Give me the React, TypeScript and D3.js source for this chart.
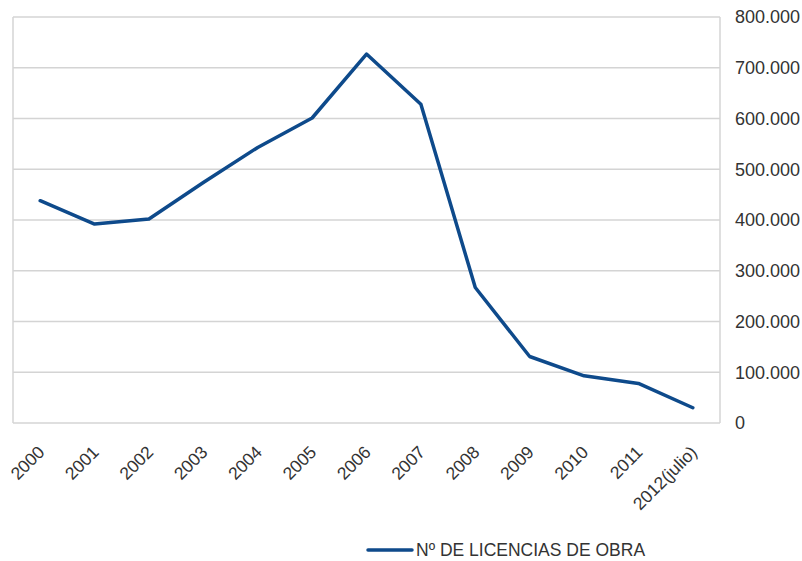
import React from "react";
import * as d3 from "d3";

const categories = ["2000", "2001", "2002", "2003", "2004", "2005", "2006", "2007", "2008", "2009", "2010", "2011", "2012(julio)"];
const licencias = [438000, 392000, 402000, 474000, 543000, 601000, 727000, 628000, 267000, 131000, 93000, 78000, 30000];
const yTicks = [0, 100000, 200000, 300000, 400000, 500000, 600000, 700000, 800000];
const seriesName = "Nº DE LICENCIAS DE OBRA";

const W = 802, H = 561;
const M = { left: 13, right: 720, top: 17, bottom: 423 };
const FONT = "'Liberation Sans', Arial, sans-serif";

export default function App() {
  const x = d3.scaleBand<string>().domain(categories).range([M.left, M.right]);
  const y = d3.scaleLinear().domain([0, 800000]).range([M.bottom, M.top]);
  const fmt = (v: number) => (v === 0 ? "0" : d3.format(",")(v).replace(/,/g, "."));
  const line = d3
    .line<number>()
    .x((_, i) => (x(categories[i]) as number) + x.bandwidth() / 2)
    .y((d) => y(d));

  return (
    <svg width={W} height={H} style={{ position: "absolute", left: 0, top: 0, background: "#fff" }} fontFamily={FONT}>
      {yTicks.map((t) => (
        <line key={t} x1={M.left} x2={M.right} y1={y(t)} y2={y(t)} stroke="#d4d4d4" strokeWidth={1.5} />
      ))}
      <line x1={M.left} x2={M.left} y1={M.top} y2={M.bottom} stroke="#d4d4d4" strokeWidth={1.5} />
      <line x1={M.right} x2={M.right} y1={M.top} y2={M.bottom} stroke="#d4d4d4" strokeWidth={1.5} />
      {yTicks.map((t) => (
        <text key={t} x={735} y={y(t)} dy="0.35em" fontSize={18} fill="#333">
          {fmt(t)}
        </text>
      ))}
      {categories.map((c) => {
        const cx = (x(c) as number) + x.bandwidth() / 2 + 1;
        const cy = M.bottom + 26;
        return (
          <text key={c} x={cx} y={cy} transform={`rotate(-45 ${cx} ${cy})`} textAnchor="end" dy="0.35em" fontSize={17.5} fill="#333">
            {c}
          </text>
        );
      })}
      <path d={line(licencias) || ""} fill="none" stroke="#0e4a8b" strokeWidth={3.5} strokeLinejoin="round" strokeLinecap="round" />
      <line x1={368} x2={412} y1={550} y2={550} stroke="#0e4a8b" strokeWidth={3.5} strokeLinecap="round" />
      <text x={416} y={550} dy="0.35em" fontSize={17.5} fill="#333">
        {seriesName}
      </text>
    </svg>
  );
}
